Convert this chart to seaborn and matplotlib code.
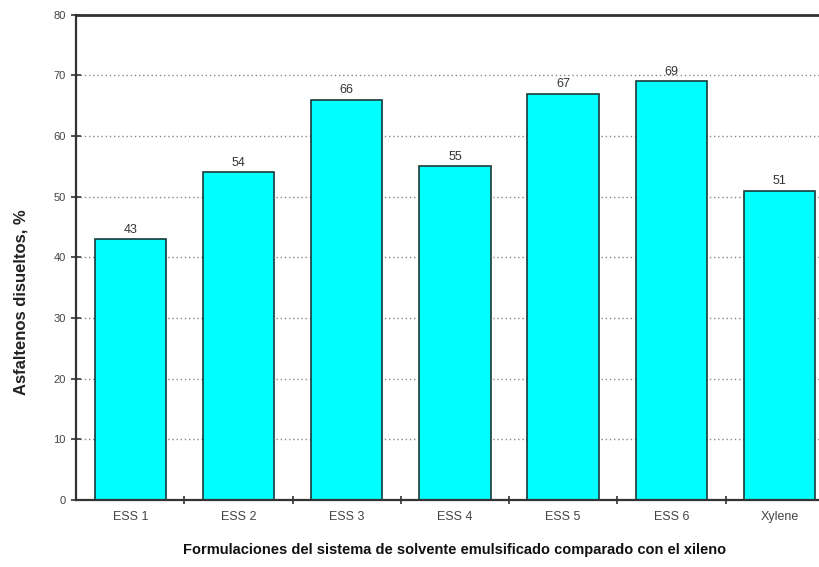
import matplotlib
matplotlib.use("Agg")
import matplotlib.pyplot as plt
import numpy as np
import pandas as pd
import seaborn as sns

# datos
categorias = ["ESS 1", "ESS 2", "ESS 3", "ESS 4", "ESS 5", "ESS 6", "Xylene"]
valores = [43, 54, 66, 55, 67, 69, 51]

df = pd.DataFrame({"formulacion": categorias, "asfaltenos": valores})

sns.set_style("white")
plt.rcParams["font.family"] = ["Liberation Sans", "DejaVu Sans"]

fig = plt.figure(figsize=(8.19, 5.67), dpi=100)
ax = fig.add_axes([0.093, 0.118, 0.925, 0.856])

sns.barplot(data=df, x="formulacion", y="asfaltenos", color="#00FFFF",
            edgecolor="#1a3a3a", linewidth=1.2, width=0.66, saturation=1, ax=ax)

for i, v in enumerate(valores):
    ax.text(i, v + 0.6, str(v), ha="center", va="bottom", fontsize=9, color="#333333")

ax.set_ylim(0, 80)
ax.set_xlim(-0.5, len(categorias) - 0.5)
ax.set_yticks(np.arange(0, 81, 10))
ax.yaxis.grid(True, linestyle=(0, (1, 2)), color="#888888", linewidth=1)
ax.set_axisbelow(True)

# ticks del eje x entre categorías
ax.set_xticks(np.arange(len(categorias)))
ax.set_xticklabels(categorias)
ax.set_xticks(np.arange(0.5, len(categorias) - 0.5, 1), minor=True)
ax.tick_params(axis="both", which="both", bottom=True, left=True)
ax.tick_params(axis="x", which="major", length=0, pad=8, labelsize=9, colors="#444444")
ax.tick_params(axis="x", which="minor", length=6, width=1.2, direction="inout", color="#333333")
ax.tick_params(axis="y", length=7, width=1.2, direction="inout", labelsize=8, colors="#444444", pad=4)
ax.tick_params(axis="y", color="#333333")

for s in ["left", "bottom", "top"]:
    ax.spines[s].set_visible(True)
    ax.spines[s].set_color("#333333")
ax.spines["left"].set_linewidth(1.6)
ax.spines["bottom"].set_linewidth(1.6)
ax.spines["top"].set_linewidth(2.0)
ax.spines["right"].set_visible(False)

ax.set_ylabel("Asfaltenos disueltos, %", fontsize=12, fontweight="bold", color="#222222")
ax.yaxis.set_label_coords(-0.063, 0.408)
ax.set_xlabel("Formulaciones del sistema de solvente emulsificado comparado con el xileno",
              fontsize=10.5, fontweight="bold", color="#111111", labelpad=14)

fig.savefig("out.png", dpi=100)
